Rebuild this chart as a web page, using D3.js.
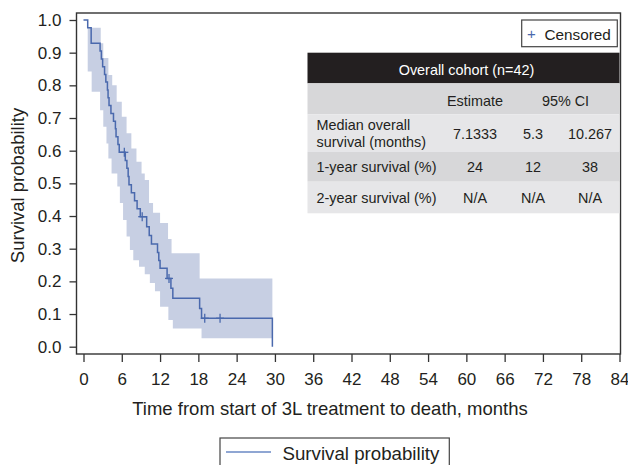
<!DOCTYPE html>
<html>
<head>
<meta charset="utf-8">
<script src="https://cdn.jsdelivr.net/npm/d3@7"></script>
<style>
  html, body { margin: 0; padding: 0; background: #fff; }
  svg { display: block; font-family: "Liberation Sans", Arial, Helvetica, sans-serif; }
</style>
</head>
<body>
<svg id="chart" width="628" height="465"></svg>
<script>
// ---------------- DATA ----------------
const xTickValues = [0, 6, 12, 18, 24, 30, 36, 42, 48, 54, 60, 66, 72, 78, 84];
const yTickValues = [0.0, 0.1, 0.2, 0.3, 0.4, 0.5, 0.6, 0.7, 0.8, 0.9, 1.0];

// Kaplan-Meier step points (time in months, survival after the step)
const kmTime = [0, 0.66, 1.2, 2.6, 2.8, 3.0, 3.3, 3.5, 3.75, 3.85, 4.0, 4.3, 4.7, 5.0, 5.1, 5.4, 5.6,
                6.55, 6.8, 7.0, 7.13, 7.5, 8.0, 8.4, 8.9, 9.9, 10.3, 10.65, 11.6, 11.8, 12.0,
                13.1, 13.7, 14.0, 18.2, 18.5, 29.6];
const kmSurv = [1.0, 0.976, 0.929, 0.905, 0.881, 0.857, 0.833, 0.810, 0.786, 0.762, 0.738, 0.714, 0.690, 0.667, 0.643, 0.619, 0.595,
                0.570, 0.546, 0.521, 0.496, 0.471, 0.447, 0.422, 0.398, 0.367, 0.340, 0.314, 0.288, 0.264, 0.240,
                0.209, 0.179, 0.148, 0.117, 0.087, 0.0];

// Censored observations
const censorTime = [6.4, 9.2, 13.4, 19.0, 21.4];
const censorSurv = [0.595, 0.398, 0.209, 0.087, 0.087];

// 95% confidence band (step function)
const ciTime  = [0.66, 1.28, 2.6, 2.7, 3.1, 3.6, 3.9, 4.4, 4.5, 5.2, 5.3, 5.7, 6.0, 6.2, 6.75, 7.27, 7.5, 7.8,
                 8.3, 8.7, 9.1, 9.6, 10.27, 10.4, 10.9, 11.2, 12.0, 13.25, 13.3, 13.8, 14.0, 18.2, 18.5, 29.6];
const ciUpper = [0.976, 0.976, 0.976, 0.929, 0.884, 0.884, 0.832, 0.832, 0.80, 0.75, 0.75, 0.75, 0.704, 0.704, 0.653, 0.653, 0.607, 0.607,
                 0.566, 0.566, 0.53, 0.51, 0.44, 0.44, 0.41, 0.41, 0.379, 0.33, 0.33, 0.286, 0.286, 0.209, 0.209, 0.209];
const ciLower = [0.842, 0.78, 0.724, 0.724, 0.673, 0.622, 0.576, 0.53, 0.53, 0.53, 0.49, 0.44, 0.44, 0.388, 0.337, 0.296, 0.296, 0.265,
                 0.265, 0.245, 0.245, 0.222, 0.222, 0.195, 0.195, 0.17, 0.122, 0.122, 0.082, 0.082, 0.056, 0.056, 0.026, 0.026];

// Summary table
const tableTitle = "Overall cohort (n=42)";
const tableHeads = ["Estimate", "95% CI"];
const rowLabels = [["Median overall", "survival (months)"], ["1-year survival (%)"], ["2-year survival (%)"]];
const rowEstimate = ["7.1333", "24", "N/A"];
const rowCILow = ["5.3", "12", "N/A"];
const rowCIHigh = ["10.267", "38", "N/A"];

const xTitle = "Time from start of 3L treatment to death, months";
const yTitle = "Survival probability";
const legendLabel = "Survival probability";
const censorLabel = "Censored";

// ---------------- LAYOUT ----------------
const svg = d3.select("#chart");
const frame = {left: 76.5, top: 13, right: 620.5, bottom: 354};
const x = d3.scaleLinear().domain([0, 84]).range([83.5, 619.5]);
const y = d3.scaleLinear().domain([0, 1]).range([346.7, 20]);

const lineColor = "#4a69ad";
const bandColor = "#c7cfe3";
const axisColor = "#333333";
const textColor = "#231f20";

// confidence band
const bandData = ciTime.map((t, i) => ({t, lo: ciLower[i], hi: ciUpper[i]}));
svg.append("path")
  .datum(bandData)
  .attr("fill", bandColor)
  .attr("d", d3.area().x(d => x(d.t)).y0(d => y(d.lo)).y1(d => y(d.hi)).curve(d3.curveStepAfter));

// KM line
const kmData = kmTime.map((t, i) => ({t, s: kmSurv[i]}));
svg.append("path")
  .datum(kmData)
  .attr("fill", "none")
  .attr("stroke", lineColor)
  .attr("stroke-width", 1.5)
  .attr("d", d3.line().x(d => x(d.t)).y(d => y(d.s)).curve(d3.curveStepAfter));

// censor marks
const cg = svg.append("g").attr("stroke", lineColor).attr("stroke-width", 1.3);
censorTime.forEach((t, i) => {
  const cx = x(t), cy = y(censorSurv[i]);
  cg.append("line").attr("x1", cx).attr("x2", cx).attr("y1", cy - 4.5).attr("y2", cy + 4.5);
  cg.append("line").attr("x1", cx - 4).attr("x2", cx + 4).attr("y1", cy).attr("y2", cy);
});

// frame
svg.append("rect")
  .attr("x", frame.left).attr("y", frame.top)
  .attr("width", frame.right - frame.left).attr("height", frame.bottom - frame.top)
  .attr("fill", "none").attr("stroke", axisColor).attr("stroke-width", 1.4);

// y axis
const yAxis = d3.axisLeft(y).tickValues(yTickValues).tickFormat(d3.format(".1f")).tickSize(7).tickPadding(8);
const yg = svg.append("g").attr("transform", `translate(${frame.left},0)`).call(yAxis);
yg.select(".domain").remove();
yg.selectAll(".tick line").attr("stroke", axisColor).attr("stroke-width", 1.3);
yg.selectAll(".tick text").attr("fill", textColor).style("font-size", "17px").style("font-family", "Liberation Sans, Arial, sans-serif");

// x axis
const xAxis = d3.axisBottom(x).tickValues(xTickValues).tickFormat(d3.format("d")).tickSize(8).tickPadding(11);
const xg = svg.append("g").attr("transform", `translate(0,${frame.bottom})`).call(xAxis);
xg.select(".domain").remove();
xg.selectAll(".tick line").attr("stroke", axisColor).attr("stroke-width", 1.3);
xg.selectAll(".tick text").attr("fill", textColor).style("font-size", "17px").style("font-family", "Liberation Sans, Arial, sans-serif");

// axis titles
svg.append("text").attr("x", 330).attr("y", 415).attr("text-anchor", "middle")
  .attr("fill", textColor).style("font-size", "18.5px").text(xTitle);
svg.append("text").attr("transform", `translate(24,${(frame.top + frame.bottom) / 2 + 2}) rotate(-90)`)
  .attr("text-anchor", "middle").attr("fill", textColor).style("font-size", "18.5px").text(yTitle);

// censored legend
svg.append("rect").attr("x", 521.7).attr("y", 20).attr("width", 95.6).attr("height", 26.7)
  .attr("fill", "#fff").attr("stroke", "#444").attr("stroke-width", 1.2);
svg.append("text").attr("x", 531.5).attr("y", 39).attr("text-anchor", "middle")
  .attr("fill", lineColor).style("font-size", "15px").text("+");
svg.append("text").attr("x", 544.5).attr("y", 39.5)
  .attr("fill", textColor).style("font-size", "15.3px").text(censorLabel);

// summary table
const tx0 = 307.5, tx1 = 619.5;
const rowY = [52.7, 83.3, 114.3, 151.7, 181.7, 213.3];
const rowFill = ["#231f20", "#d7d7d9", "#e6e6e8", "#d7d7d9", "#e6e6e8"];
rowFill.forEach((f, i) => {
  svg.append("rect").attr("x", tx0).attr("y", rowY[i]).attr("width", tx1 - tx0)
    .attr("height", rowY[i + 1] - rowY[i]).attr("fill", f);
});
const tfs = "14.4px";
svg.append("text").attr("x", 466.5).attr("y", 74.5).attr("text-anchor", "middle")
  .attr("fill", "#fff").style("font-size", tfs).text(tableTitle);
svg.append("text").attr("x", 475).attr("y", 105.5).attr("text-anchor", "middle")
  .attr("fill", textColor).style("font-size", tfs).text(tableHeads[0]);
svg.append("text").attr("x", 565.5).attr("y", 105.5).attr("text-anchor", "middle")
  .attr("fill", textColor).style("font-size", tfs).text(tableHeads[1]);

const valBase = [139, 171.5, 203];
const labelBase = [[129.5, 147], [171.5], [203]];
const colX = [475, 533, 590];
rowLabels.forEach((lines, i) => {
  lines.forEach((ln, j) => {
    svg.append("text").attr("x", 316.5).attr("y", labelBase[i][j])
      .attr("fill", textColor).style("font-size", tfs).text(ln);
  });
  [rowEstimate[i], rowCILow[i], rowCIHigh[i]].forEach((v, k) => {
    svg.append("text").attr("x", colX[k]).attr("y", valBase[i]).attr("text-anchor", "middle")
      .attr("fill", textColor).style("font-size", tfs).text(v);
  });
});

// bottom legend
svg.append("rect").attr("x", 220).attr("y", 438).attr("width", 229.3).attr("height", 40)
  .attr("fill", "#fff").attr("stroke", "#444").attr("stroke-width", 1.2);
svg.append("line").attr("x1", 226).attr("x2", 271).attr("y1", 452).attr("y2", 452)
  .attr("stroke", "#6a88c4").attr("stroke-width", 1.6);
svg.append("text").attr("x", 282.5).attr("y", 459.5)
  .attr("fill", textColor).style("font-size", "18.7px").text(legendLabel);
</script>
</body>
</html>
